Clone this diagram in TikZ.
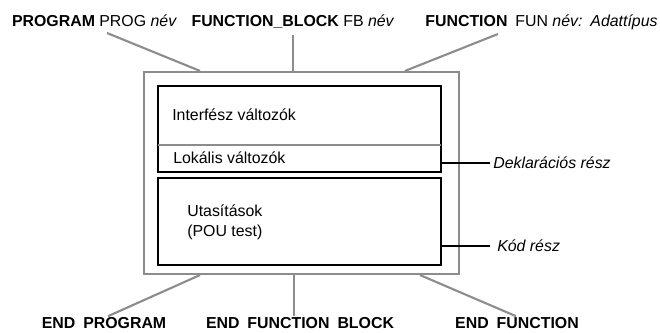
\documentclass[tikz,border=0pt]{standalone}
\usepackage{fontspec}
\setmainfont{Liberation Sans}
\usetikzlibrary{positioning, calc}
\definecolor{frameGrey}{HTML}{8C8C8C}

\begin{document}
\begin{tikzpicture}[
  frame/.style={draw=frameGrey, line width=1.5pt, inner sep=0pt},
  part/.style={draw=black, line width=1.6pt, inner sep=0pt},
  lbl/.style={font=\fontsize{11.3}{14}\selectfont, inner sep=0pt},
  note/.style={font=\fontsize{11.3}{14}\selectfont\itshape, inner sep=0pt, anchor=west},
  kw/.style={lbl, anchor=base},
  foot/.style={kw, font=\fontsize{11.3}{14}\selectfont\bfseries},
  link/.style={frameGrey, line width=1.5pt},
  tag/.style={black, line width=1.2pt}
]
\useasboundingbox (0,0) rectangle (16.5,8.325);

% POU frame
\node[frame, minimum width=7.875cm, minimum height=5.05cm] (pou) at (7.5375,4) {};

% Declaration part
\node[part, minimum width=7.075cm, minimum height=2.15cm] (decl) at (7.4875,5.1) {};
\draw[frameGrey, line width=1pt, shorten <=0.8pt, shorten >=0.8pt]
  (decl.west |- 0,4.7) -- (decl.east |- 0,4.7);
\node[lbl, anchor=west] (iface) at (4.3,5.45) {Interfész változók};
\node[lbl, anchor=west] (local) at (4.325,4.375) {Lokális változók};

% Code part
\node[part, minimum width=7.075cm, minimum height=2.175cm] (code) at (7.4875,2.7875) {};
\node[lbl, anchor=west, align=left] (stmt) at (4.675,2.7625) {Utasítások\\(POU test)};

% Part names on the right
\node[note] (decltxt) at (12.325,4.25) {Deklarációs rész};
\node[note] (codetxt) at (12.425,2.175) {Kód rész};
\draw[tag] (decl.east |- decltxt) -- ([xshift=-2pt]decltxt.west);
\draw[tag] (code.east |- codetxt) -- ([xshift=-5pt]codetxt.west);

% Headers
\node[kw] (prog) at (2.3625,7.65) {\textbf{PROGRAM} PROG \textit{név}};
\node[kw] (fb) at (7.325,7.65) {\textbf{FUNCTION\_BLOCK} FB \textit{név}};
\node[kw] (fun) at (13.5375,7.65) {\textbf{FUNCTION}\enspace FUN \textit{név:\enspace Adattípus}};
\coordinate (progend) at (2.675,7.5);
\coordinate (funend) at (12.45,7.475);
\draw[link] (progend) -- (pou.north -| 5,0);
\draw[link] ([yshift=-5.5pt]fb.base) -- (fb.base |- pou.north);
\draw[link] (funend) -- (pou.north -| 10.125,0);

% Footers
\node[foot] (endprog) at (2.6,0.1) {END\enspace PROGRAM};
\node[foot] (endfb) at (7.5,0.1) {END\enspace FUNCTION\enspace BLOCK};
\node[foot] (endfun) at (12.925,0.1) {END\enspace FUNCTION};
\coordinate (endprogtop) at (2.7,0.42);
\coordinate (endfbtop) at (7.35,0.42);
\coordinate (endfuntop) at (12.9,0.42);
\draw[link] (pou.south -| 5,0) -- (endprogtop);
\draw[link] (pou.south -| endfbtop) -- (endfbtop);
\draw[link] (pou.south -| 10.5,0) -- (endfuntop);
\end{tikzpicture}
\end{document}
